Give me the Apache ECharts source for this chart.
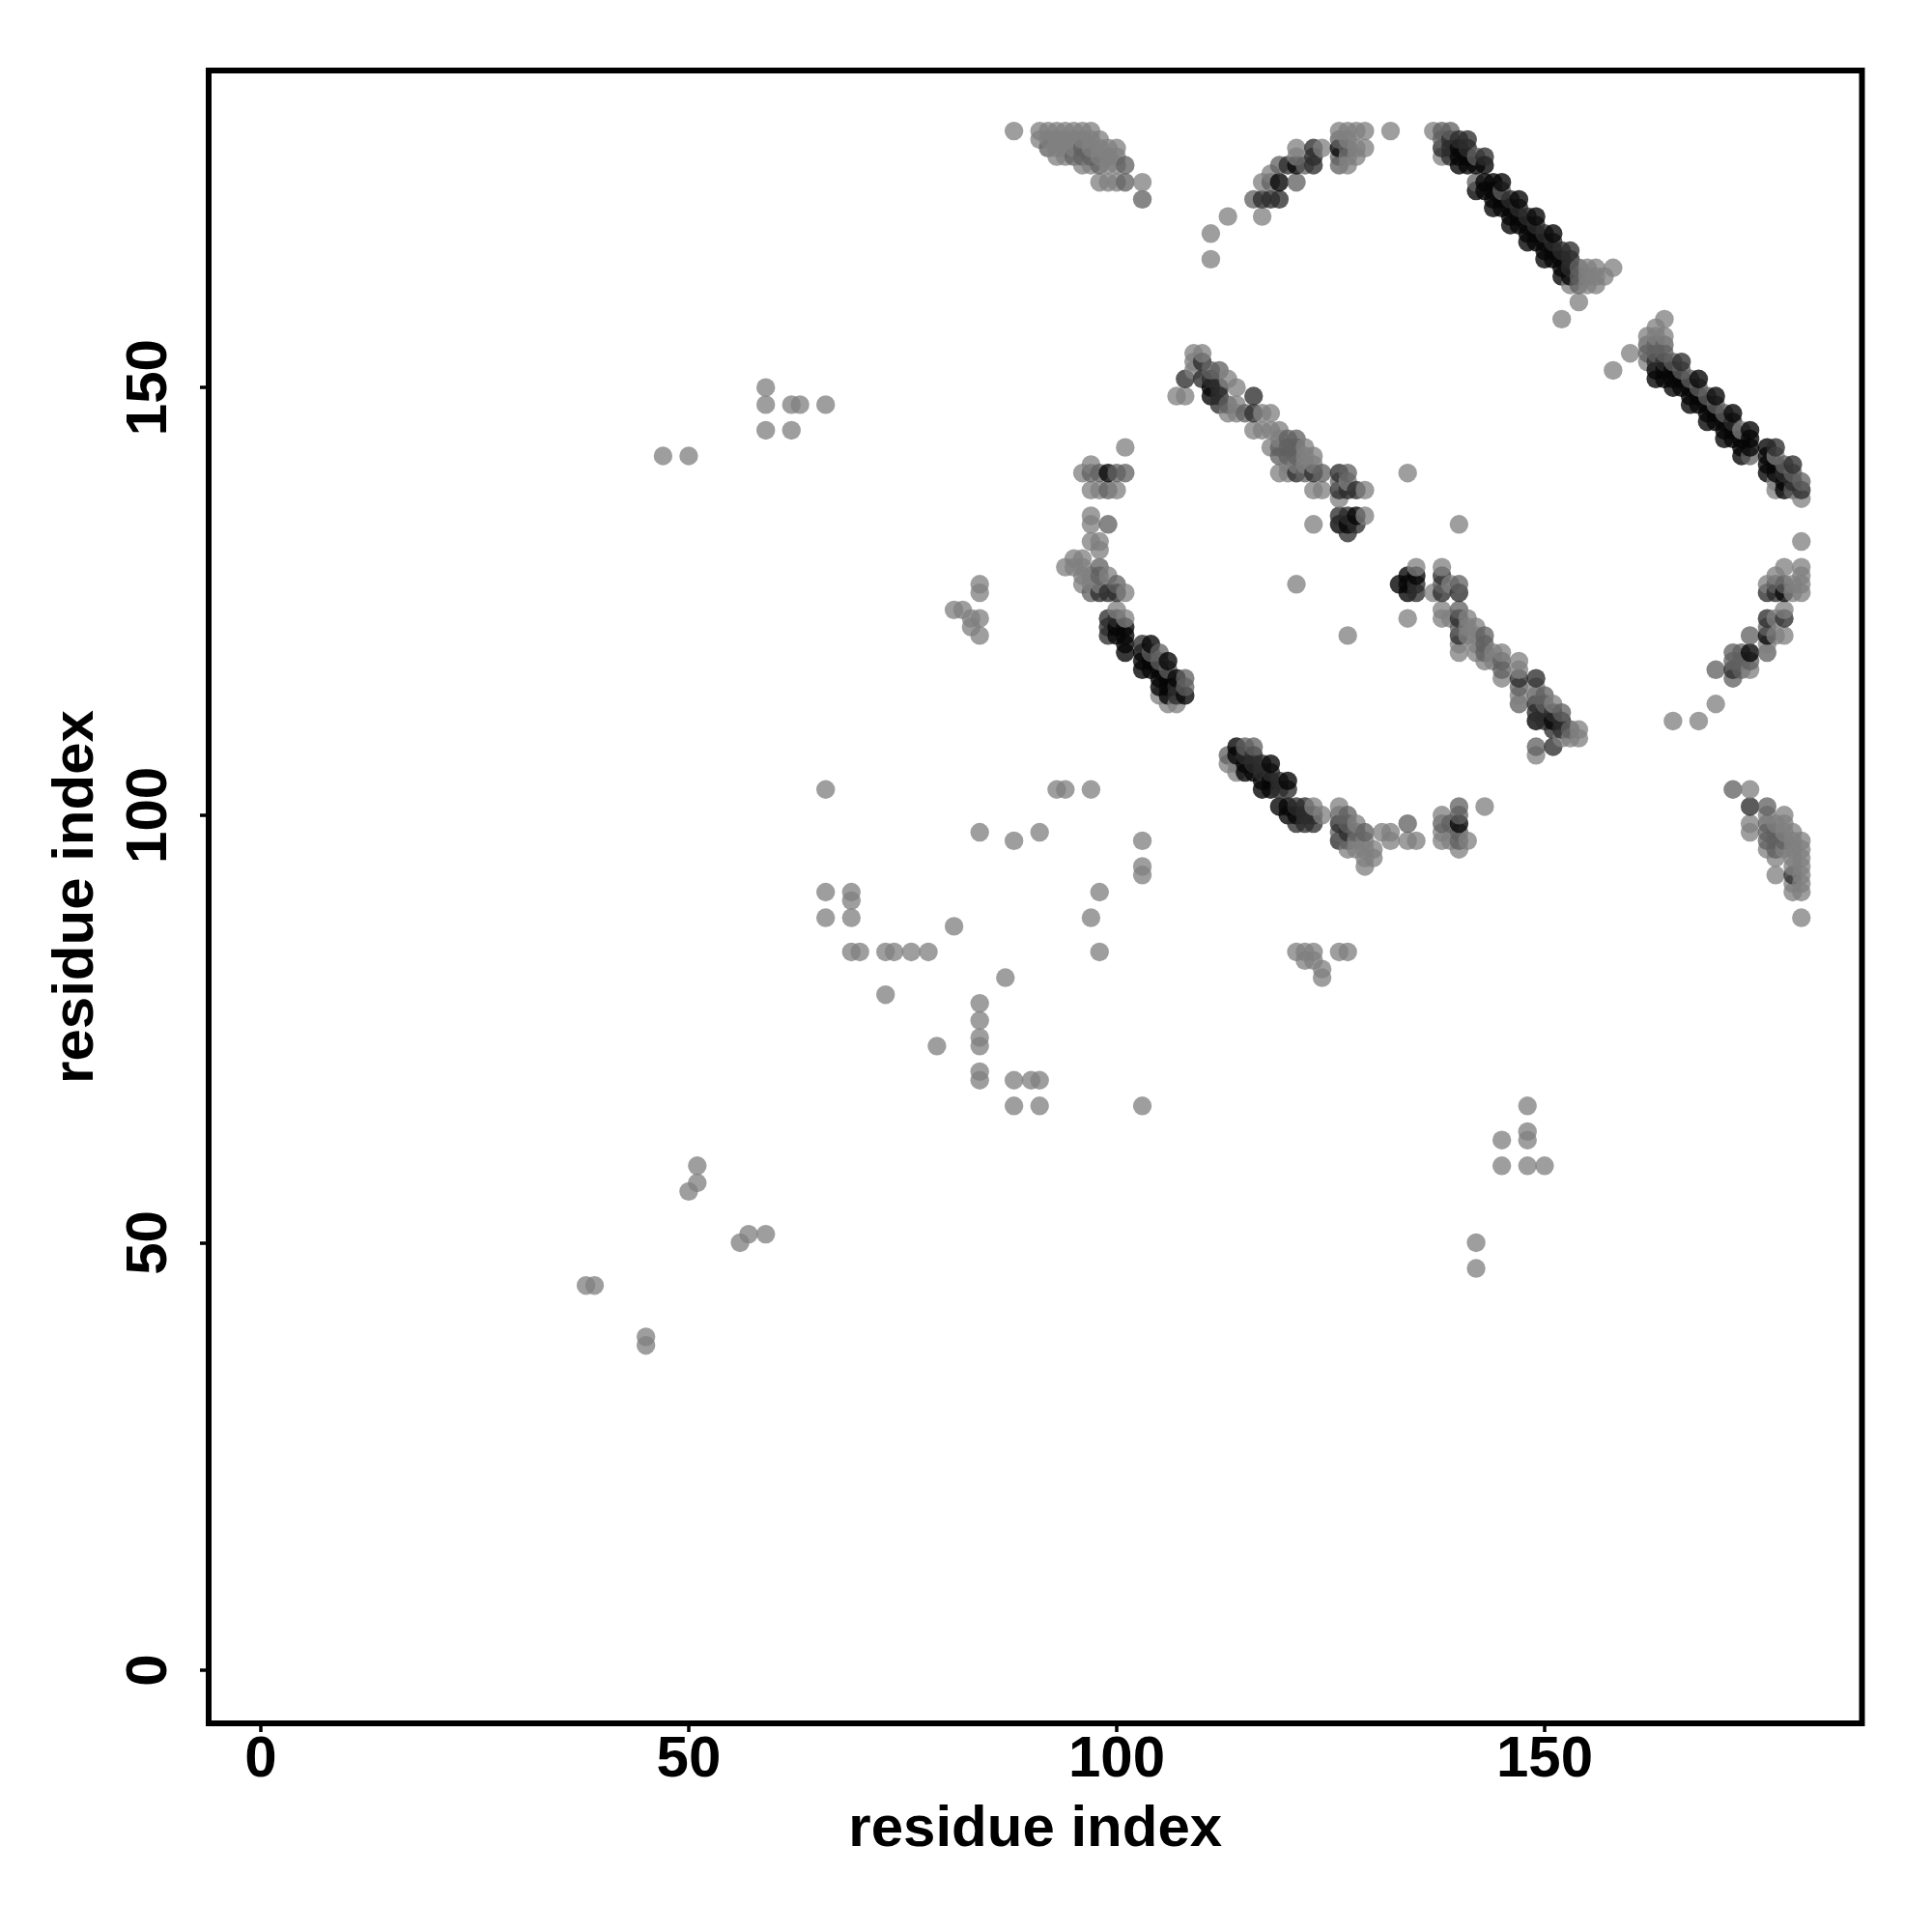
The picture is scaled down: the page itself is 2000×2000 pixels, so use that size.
<!DOCTYPE html>
<html><head><meta charset="utf-8">
<style>html,body{margin:0;padding:0;background:#fff}#c{width:2000px;height:2000px}</style>
<script src="https://cdn.jsdelivr.net/npm/echarts@6/dist/echarts.min.js"></script>
</head><body><div id="c"></div>
<script>
const xTicks=[0,50,100,150], yTicks=[0,50,100,150];
const axisTitle='residue index';
// contact points by intensity: [residue x, residue y]
const lightPoints=[
[47,142],[50,142],[59,150],[59,148],[59,145],[62,148],[63,148],[62,145],[66,148],[66,103],[66,91],[69,91],[66,88],[69,90],[69,88],[69,84],[70,84],[73,84],[74,84],[76,84],[78,84],[81,87],[73,79],[79,73],
[84,78],[84,76],[84,74],[84,73],[84,70],[84,69],[87,81],[88,69],[90,69],[91,69],[88,66],[91,66],[103,66],[84,98],[88,97],[91,98],[93,103],[94,103],[97,103],[103,97],[103,94],[103,93],[98,91],[97,88],[98,84],
[121,84],[122,84],[123,84],[122,83],[123,83],[124,82],[124,81],[126,84],[127,84],[145,62],[148,63],[148,62],[148,66],[145,59],[148,59],[150,59],[142,50],[142,47],[38,45],[39,45],[45,39],[45,38],[51,59],[51,57],[50,56],[56,50],[57,51],[59,51],
[81,124],[82,124],[83,123],[83,122],[84,123],[84,121],[84,127],[84,126],[121,127],[127,121],[123,134],[134,140],[140,134],[134,123],[158,152],[160,154],[152,158],[154,160],[165,111],[168,111],[170,113],[180,88],[180,132],[132,180],[88,180],[111,165],[111,168],[113,170],[117,170],[101,143],
[91,180],[92,180],[93,180],[94,180],[95,180],[96,180],[97,180],[91,179],[92,179],[93,179],[94,179],[95,179],[96,179],[97,179],[98,179],[93,178],[94,178],[95,178],[96,178],[97,178],[98,178],[99,178],[100,178],[93,177],[94,177],[95,177],[98,177],[99,177],[100,177],[96,176],[97,176],[99,176],[100,176],[98,174],[99,174],[100,174],[103,174],
[117,174],[118,175],[120,176],[121,177],[121,178],[124,178],[126,180],[127,180],[128,180],[129,180],[127,179],[128,178],[129,178],[127,177],[128,177],[127,176],
[137,180],[138,177],[153,162],[155,164],[156,164],[155,163],[156,163],[157,163],[158,164],[155,162],[156,162],
[162,156],[162,153],[163,157],[163,156],[164,158],[164,156],[173,145],[177,138],[177,139],[177,142],[180,137],
[109,154],[110,154],[107,149],[108,149],[109,152],[109,153],[113,151],[114,150],[114,148],[113,147],[114,147],[117,147],[118,147],[116,145],[117,145],[118,145],[119,145],[119,144],[118,143],[122,143],[122,142],[123,142],[120,141],[121,141],[122,141],[123,141],[119,140],[120,140],[123,138],[124,138],[129,138],[127,139],[126,137],[129,135],
[96,140],[97,141],[97,138],[98,138],[100,138],[97,135],[97,134],[97,132],[98,132],[98,131],[94,129],[95,129],[96,129],[95,130],[96,130],[96,128],[97,128],[99,128],[96,127],[97,127],[98,127],[101,126],[100,124],[101,123],[106,113],[107,113],[105,114],
[135,129],[137,126],[138,129],[139,127],[138,124],[138,123],[139,123],[140,120],[140,119],[141,123],[141,122],[141,121],[142,122],[142,121],[142,120],[142,119],[143,118],[144,119],[144,118],[145,119],[145,116],[147,118],[147,117],[147,114],[149,115],[151,113],[153,109],[154,110],[154,109],[152,109],[149,107],
[180,129],[180,128],[180,127],[180,126],[178,129],[177,128],[176,127],[179,127],[179,126],[178,124],[177,123],[177,121],[178,121],[176,120],[174,117],
[113,106],[114,106],[114,105],[123,101],[124,100],[126,101],[127,96],[128,99],[128,97],[128,96],[129,97],[129,96],[129,95],[129,94],[130,96],[130,95],[131,98],[132,98],[132,97],[134,97],[135,97],[138,100],[138,98],[138,97],[139,97],[140,96],[141,97],[143,101],
[174,103],[174,99],[174,98],[176,100],[176,96],[177,99],[177,95],[177,93],[178,100],[178,99],[178,98],[178,96],[179,98],[179,97],[179,96],[179,95],[179,94],[179,92],[179,91],[180,97],[180,96],[180,95],[180,94],[180,93],[180,92],[180,91]
];
const midPoints=[
[92,178],[95,177],[96,178],[96,177],[97,177],[98,176],[101,176],[101,174],[103,172],[116,172],[118,174],[121,174],[119,176],[122,176],[126,179],[126,177],[126,176],[127,178],
[138,180],[139,180],[138,179],[142,177],[142,174],[145,173],[154,162],[154,163],[154,164],
[162,155],[162,154],[163,155],[163,154],[164,155],[164,154],[165,153],[166,152],[167,151],[168,150],[169,149],[170,148],[171,147],[174,142],[178,141],[179,138],[179,140],[180,139],
[111,152],[112,152],[113,148],[115,147],[120,144],[121,144],[119,143],[120,143],[121,143],[119,142],[120,142],[121,142],[122,140],[124,140],[127,140],[126,139],
[97,140],[98,140],[100,140],[101,140],[99,138],[99,134],[98,129],[98,128],[100,127],[97,126],[104,119],[105,119],[105,118],[106,117],[108,116],[108,115],
[138,127],[140,127],[140,124],[140,122],[143,121],[143,120],[143,119],[145,118],[145,117],[147,115],[147,113],[149,114],[149,108],[150,114],[150,113],[152,112],[153,110],
[178,127],[177,127],[176,122],[176,119],[174,121],[174,118],[173,119],[172,119],[172,118],[172,116],[173,118],[173,117],[170,117],
[115,108],[116,108],[113,107],[126,100],[126,98],[127,100],[127,99],[127,97],[128,98],[129,98],[134,99],[138,99],[139,99],[140,101],[140,100],[140,98],[140,97],
[172,103],[176,101],[176,99],[176,98],[176,97],[177,98],[177,97],[177,96],[178,97]
];
const darkPoints=[
[118,172],[119,172],[117,172],[123,176],[123,177],[123,178],[126,178],[120,176],
[140,179],[141,179],[138,178],[139,178],[139,177],[139,179],[141,178],[143,177],[146,172],[147,171],[148,170],[149,169],[150,168],[151,167],[152,166],[153,166],[153,165],[153,164],
[163,153],[164,153],[166,153],[172,146],[177,143],[178,140],[179,141],[179,139],[180,138],
[108,151],[110,153],[110,151],[111,151],[112,150],[112,149],[112,148],[116,149],[116,147],[121,140],[123,140],[126,140],[126,138],[127,138],[128,138],[126,135],[127,135],[127,133],[128,134],
[98,126],[99,126],[100,126],[99,123],[100,123],[99,122],[99,121],[103,120],[108,114],[107,115],[107,114],
[135,127],[135,126],[138,128],[138,126],[140,126],[140,123],[140,121],[147,116],[149,116],[149,113],[149,112],[150,112],[150,111],[151,112],[151,110],[152,111],[152,110],[151,108],
[176,126],[177,126],[176,123],[178,123],[172,117],
[115,107],[116,107],[116,106],[117,106],[117,105],[118,105],[119,104],[119,103],[120,103],[121,101],[122,101],[122,100],[123,100],[121,99],[122,99],[123,99],[126,99],[126,97],[127,98],
[174,101],[179,93]
];
const blackPoints=[
[119,174],[121,176],[126,178],
[140,178],[140,177],[140,176],[141,177],[141,176],[142,176],[143,176],[142,173],[143,173],[143,174],[144,171],[144,172],[144,173],[144,174],[145,171],[145,172],[145,174],[146,169],[146,170],[146,171],[147,169],[147,170],[147,172],[148,167],[148,168],[148,169],[149,167],[149,168],[149,170],[150,165],[150,166],[150,167],[151,165],[151,166],[151,168],[152,163],[152,164],[152,165],[153,163],
[163,152],[164,152],[163,151],[164,151],[165,150],[165,151],[165,152],[166,150],[166,151],[167,148],[167,149],[167,150],[168,148],[168,149],[168,151],[169,146],[169,147],[169,148],[170,146],[170,147],[170,149],[171,144],[171,145],[171,146],[172,144],[172,145],[172,147],[173,142],[173,143],[173,144],[174,143],[174,144],[174,145],[176,140],[176,141],[176,142],[176,143],[177,140],[177,141],[178,138],[178,139],
[111,150],[111,149],[126,134],[127,134],[128,135],
[99,140],[100,122],[100,121],[101,122],[101,121],[101,120],[101,119],[103,119],[103,118],[103,117],[104,120],[104,118],[104,117],[105,117],[105,116],[105,115],[106,118],[106,116],[106,115],[106,114],[107,116],[108,114],
[135,128],[133,127],[134,128],[134,127],[134,126],[149,111],[151,111],
[178,126],[176,121],[174,119],
[114,108],[114,107],[115,106],[118,106],[115,105],[116,105],[120,104],[117,104],[118,104],[117,103],[118,103],[119,101],[120,101],[120,100],[121,100],[140,99]
];
const tiers=[[lightPoints,'rgba(128,128,128,0.95)'],[midPoints,'rgba(96,96,96,0.95)'],[darkPoints,'rgba(44,44,44,0.97)'],[blackPoints,'rgba(6,6,6,1)']];
const byCell=new Map();
tiers.forEach(([pts,col])=>pts.forEach(p=>byCell.set(p[0]+','+p[1],{value:p,itemStyle:{color:col}})));
const merged=[...byCell.values()].sort((a,b)=>a.value[0]-b.value[0]||a.value[1]-b.value[1]);

const FONT='"Liberation Sans"';
function axis(ticks,min,max,nameGap,rotate,margin){return{
  type:'value',min,max,splitLine:{show:false},
  name:axisTitle,nameLocation:'middle',nameGap,
  nameTextStyle:{fontFamily:FONT,fontWeight:'bold',fontSize:60,color:'#000'},
  axisLine:{show:false,onZero:false},
  axisTick:{show:true,customValues:ticks,length:9,lineStyle:{color:'#000',width:3.5}},
  axisLabel:{show:true,customValues:ticks,rotate,margin,fontFamily:FONT,fontWeight:'bold',fontSize:60,color:'#000',formatter:v=>String(v),hideOverlap:false}
};}
const chart=echarts.init(document.getElementById('c'),null,{renderer:'canvas'});
chart.setOption({
  animation:false,backgroundColor:'#fff',
  grid:{left:216,top:73,width:1711.5,height:1711,show:true,borderColor:'#000',borderWidth:6,backgroundColor:'transparent'},
  xAxis:axis(xTicks,-6.09,187.08,80,0,8),
  yAxis:axis(yTicks,-6.2,187.07,107,90,31),
  series:[{type:'scatter',symbol:'circle',symbolSize:19.4,data:merged,clip:true,itemStyle:{borderWidth:0}}]
});
</script></body></html>
